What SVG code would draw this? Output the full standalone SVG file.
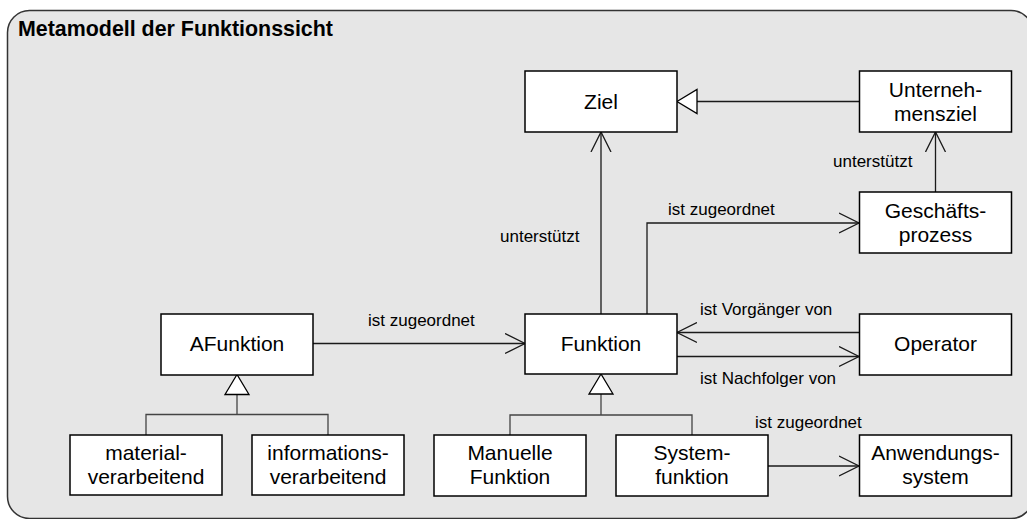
<svg xmlns="http://www.w3.org/2000/svg" width="1027" height="519" viewBox="0 0 1027 519">
  <defs>
    <style>
      .frame { fill: #e6e6e6; stroke: #333333; stroke-width: 1.5; }
      .box { fill: #ffffff; stroke: #000000; stroke-width: 1.5; }
      .line { fill: none; stroke: #1a1a1a; stroke-width: 1.3; }
      .tree { fill: none; stroke: #444444; stroke-width: 1.3; }
      .gen { fill: #ffffff; stroke: #000000; stroke-width: 1.3; }
      .title { font-family: "Liberation Sans", Arial, sans-serif; font-weight: bold; font-size: 21.4px; fill: #000; }
      .node { font-family: "Liberation Sans", Arial, sans-serif; font-size: 21px; fill: #000; text-anchor: middle; }
      .label { font-family: "Liberation Sans", Arial, sans-serif; font-size: 17px; fill: #000; }
    </style>
    <marker id="open" viewBox="0 0 22 22" refX="20" refY="11" markerWidth="22" markerHeight="22" markerUnits="userSpaceOnUse" orient="auto">
      <path d="M0,1 L20,11 L0,21" fill="none" stroke="#1a1a1a" stroke-width="1.3"/>
    </marker>
  </defs>

  <!-- package frame -->
  <rect class="frame" x="7.5" y="10.5" width="1025.5" height="508" rx="22" ry="22"/>
  <text class="title" x="18" y="35.5">Metamodell der Funktionssicht</text>

  <!-- connectors -->
  <g id="connectors">
    <!-- Unternehmensziel specialises Ziel -->
    <line class="line" x1="859" y1="101.5" x2="697" y2="101.5"/>
    <polygon class="gen" points="677,101.5 697,89.5 697,113.5"/>
    <!-- Geschaeftsprozess supports Unternehmensziel -->
    <line class="line" x1="935.5" y1="192" x2="935.5" y2="132" marker-end="url(#open)"/>
    <text class="label" x="833" y="167">unterstützt</text>
    <!-- Funktion supports Ziel -->
    <line class="line" x1="601" y1="314" x2="601" y2="132" marker-end="url(#open)"/>
    <text class="label" x="500" y="242">unterstützt</text>
    <!-- Funktion assigned to Geschaeftsprozess -->
    <polyline class="line" points="647,314 647,223 859,223" marker-end="url(#open)"/>
    <text class="label" x="668" y="215">ist zugeordnet</text>
    <!-- AFunktion assigned to Funktion -->
    <line class="line" x1="313" y1="343.5" x2="525" y2="343.5" marker-end="url(#open)"/>
    <text class="label" x="368" y="326">ist zugeordnet</text>
    <!-- Operator / Funktion ordering -->
    <line class="line" x1="859" y1="332.5" x2="677" y2="332.5" marker-end="url(#open)"/>
    <text class="label" x="700" y="315">ist Vorgänger von</text>
    <line class="line" x1="677" y1="356.5" x2="859" y2="356.5" marker-end="url(#open)"/>
    <text class="label" x="700" y="384">ist Nachfolger von</text>
    <!-- Systemfunktion assigned to Anwendungssystem -->
    <line class="line" x1="768" y1="466" x2="859" y2="466" marker-end="url(#open)"/>
    <text class="label" x="755" y="428">ist zugeordnet</text>
    <!-- AFunktion specialisations -->
    <polyline class="tree" points="146,435 146,414.5 328,414.5 328,435"/>
    <line class="tree" x1="237" y1="394.5" x2="237" y2="414.5"/>
    <polygon class="gen" points="237,374.5 225,394.5 249,394.5"/>
    <!-- Funktion specialisations -->
    <polyline class="tree" points="510,435 510,415 692,415 692,435"/>
    <line class="tree" x1="601" y1="394" x2="601" y2="415"/>
    <polygon class="gen" points="601,374 589,394 613,394"/>
  </g>

  <g id="ziel">
    <rect class="box" x="525" y="71" width="152" height="61"/>
    <text class="node" x="601" y="108.5">Ziel</text>
  </g>
  <g id="unternehmensziel">
    <rect class="box" x="859.5" y="71" width="152" height="61"/>
    <text class="node" x="935.5" y="97">Unterneh-</text>
    <text class="node" x="935.5" y="120.5">mensziel</text>
  </g>
  <g id="geschaeftsprozess">
    <rect class="box" x="859.5" y="192" width="152" height="61"/>
    <text class="node" x="935.5" y="218">Geschäfts-</text>
    <text class="node" x="935.5" y="241.5">prozess</text>
  </g>
  <g id="afunktion">
    <rect class="box" x="161" y="314" width="152" height="61"/>
    <text class="node" x="237" y="351">AFunktion</text>
  </g>
  <g id="funktion">
    <rect class="box" x="525" y="314" width="152" height="60"/>
    <text class="node" x="601" y="351">Funktion</text>
  </g>
  <g id="operator">
    <rect class="box" x="859.5" y="314" width="152" height="61"/>
    <text class="node" x="935.5" y="351">Operator</text>
  </g>
  <g id="materialverarbeitend">
    <rect class="box" x="70" y="435" width="152" height="60"/>
    <text class="node" x="146" y="460">material-</text>
    <text class="node" x="146" y="484">verarbeitend</text>
  </g>
  <g id="informationsverarbeitend">
    <rect class="box" x="252" y="435" width="152" height="60"/>
    <text class="node" x="328" y="460">informations-</text>
    <text class="node" x="328" y="484">verarbeitend</text>
  </g>
  <g id="manuelle-funktion">
    <rect class="box" x="434" y="435" width="152" height="61"/>
    <text class="node" x="510" y="460">Manuelle</text>
    <text class="node" x="510" y="484">Funktion</text>
  </g>
  <g id="systemfunktion">
    <rect class="box" x="616" y="435" width="152" height="61"/>
    <text class="node" x="692" y="460">System-</text>
    <text class="node" x="692" y="484">funktion</text>
  </g>
  <g id="anwendungssystem">
    <rect class="box" x="859.5" y="435" width="152" height="61"/>
    <text class="node" x="935.5" y="460">Anwendungs-</text>
    <text class="node" x="935.5" y="484">system</text>
  </g>
</svg>
